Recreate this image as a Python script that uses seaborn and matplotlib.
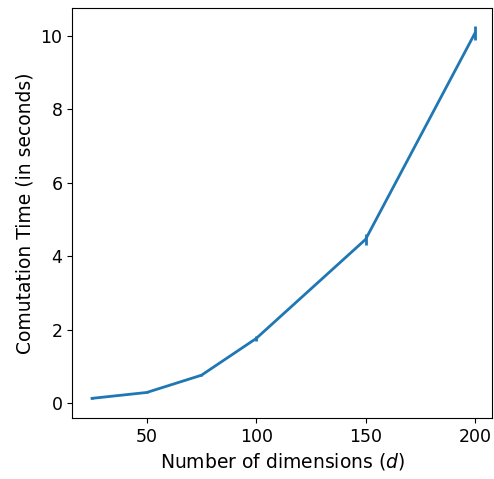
import numpy as np
import pandas as pd
import matplotlib
matplotlib.use("Agg")
import matplotlib.pyplot as plt
import seaborn as sns

# dimensions vs time
dims = [25, 50, 75, 100, 150, 200]
times = [0.13, 0.29, 0.76, 1.76, 4.46, 10.08]
errs = [0.02, 0.02, 0.03, 0.06, 0.14, 0.2]

df = pd.DataFrame({"d": dims, "time": times, "err": errs})

plt.rcParams["font.size"] = 12.5
fig, ax = plt.subplots(figsize=(4.94, 4.79), dpi=100)

sns.lineplot(data=df, x="d", y="time", color="#1f77b4", linewidth=2, errorbar=None, ax=ax)
ax.errorbar(df["d"], df["time"], yerr=df["err"], fmt="none", ecolor="#1f77b4", elinewidth=2, capsize=0)

ax.set_xlabel("Number of dimensions ($d$)", fontsize=13.5)
ax.set_ylabel("Comutation Time (in seconds)", fontsize=13.5)
ax.set_xticks([50, 100, 150, 200])
ax.set_yticks([0, 2, 4, 6, 8, 10])
ax.set_xlim(15.9, 207.8)
ax.set_ylim(-0.41, 10.76)

plt.subplots_adjust(left=0.146, right=0.996, bottom=0.127, top=0.983)
plt.savefig("out.png", dpi=100)
